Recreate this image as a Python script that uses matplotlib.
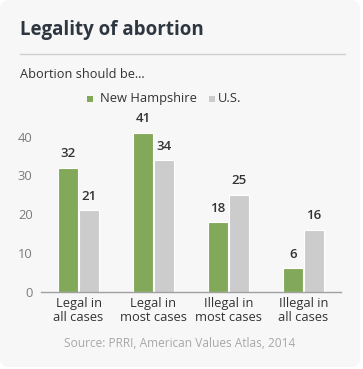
import matplotlib
matplotlib.use("Agg")
import matplotlib.pyplot as plt
import numpy as np
from matplotlib.patches import FancyBboxPatch, Rectangle

plt.rcParams["font.family"] = ["Open Sans", "DejaVu Sans"]

categories = ["Legal in\nall cases", "Legal in\nmost cases", "Illegal in\nmost cases", "Illegal in\nall cases"]
new_hampshire = [32, 41, 18, 6]
us = [21, 34, 25, 16]
series_names = ["New Hampshire", "U.S."]
yticks = [0, 10, 20, 30, 40]

GREEN = "#82a95a"; GREY_BAR = "#cccccc"; INK = "#2e3640"; TXT = "#333333"
TICK = "#7a7a7a"; SRC = "#a8a8a8"; BG = "#f7f7f7"

W, H = 363, 369
fig = plt.figure(figsize=(W/100, H/100), dpi=100)
fig.patch.set_facecolor("white")

def fx(x): return x / W
def fy(y): return 1 - y / H

# card background
bg = fig.add_axes([0, 0, 1, 1]); bg.set_xlim(0, W); bg.set_ylim(H, 0); bg.axis("off")
bg.add_patch(FancyBboxPatch((0, 0), 360, 367, boxstyle="round,pad=0,rounding_size=9",
                            fc=BG, ec="none"))
bg.plot([20, 345], [53.5, 53.5], color="#cfcfcf", lw=1)
bg.text(20, 30, "Legality of abortion", ha="left", va="center", color=INK,
        fontsize=13.5, fontweight="bold")
bg.text(20, 74, "Abortion should be...", ha="left", va="center", color=TXT, fontsize=9.2)
# legend
bg.add_patch(Rectangle((86.5, 95.5), 6, 6, fc=GREEN, ec="none"))
bg.text(100, 98.5, series_names[0], ha="left", va="center", color=TXT, fontsize=9.3)
bg.add_patch(Rectangle((208.5, 95.5), 6, 6, fc=GREY_BAR, ec="none"))
bg.text(218, 98.5, series_names[1], ha="left", va="center", color=TXT, fontsize=9.3)
bg.text(180, 343.5, "Source: PRRI, American Values Atlas, 2014", ha="center", va="center",
        color=SRC, fontsize=8.6)

# bar chart
y0 = 291.7; ppu = 3.875; ymax = 45
ax = fig.add_axes([fx(41), fy(y0), fx(300), ymax*ppu/H])
ax.set_facecolor("none")
x = np.arange(len(categories))
bw = 0.27
b1 = ax.bar(x - bw/2 - 0.005, new_hampshire, bw, color=GREEN, edgecolor="white", lw=0.8)
b2 = ax.bar(x + bw/2 + 0.005, us, bw, color=GREY_BAR, edgecolor="white", lw=0.8)
for bars in (b1, b2):
    for r in bars:
        ax.annotate(f"{int(r.get_height())}", (r.get_x()+r.get_width()/2, r.get_height()),
                    xytext=(0, 10), textcoords="offset points", ha="center", va="center",
                    color=TXT, fontsize=9.5, fontweight="semibold")
ax.set_xlim(-0.5, 3.5); ax.set_ylim(0, ymax)
ax.set_yticks(yticks)
ax.set_xticks(x)
ax.set_xticklabels(categories, color=TXT, fontsize=9.3, linespacing=1.15)
ax.tick_params(axis="y", length=0, pad=6, labelcolor=TICK, labelsize=9.3)
ax.tick_params(axis="x", length=0, pad=3.5)
for s in ("top", "right", "left"):
    ax.spines[s].set_visible(False)
ax.spines["bottom"].set_color("#a0a0a0"); ax.spines["bottom"].set_linewidth(1)

fig.savefig("out.png", dpi=100, facecolor="white")
